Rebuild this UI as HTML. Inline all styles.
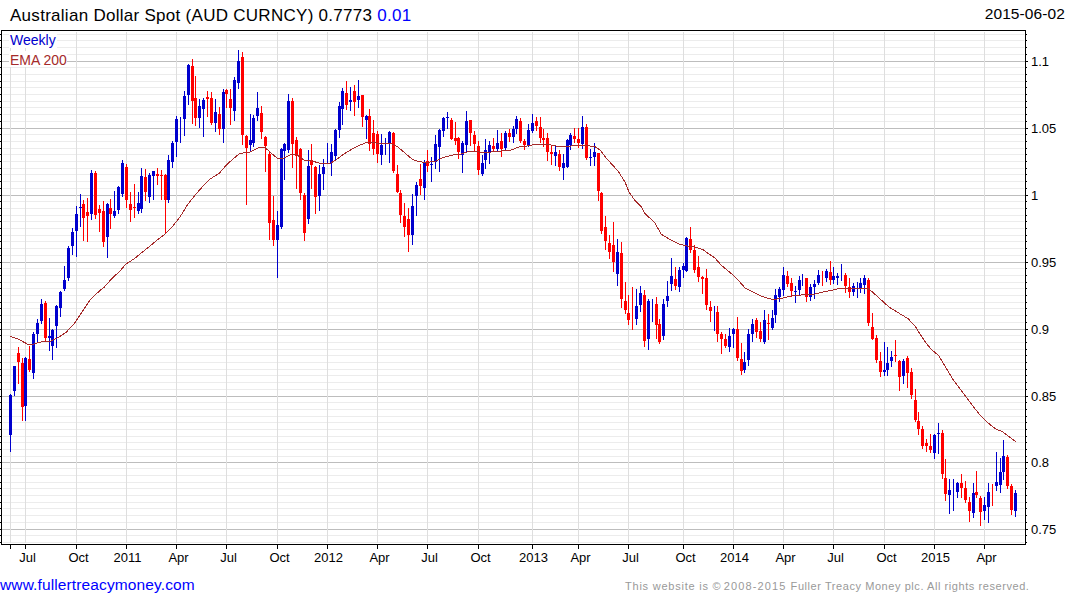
<!DOCTYPE html>
<html><head><meta charset="utf-8"><title>Chart</title>
<style>
html,body{margin:0;padding:0;background:#fff;}
body{width:1075px;height:600px;position:relative;overflow:hidden;font-family:"Liberation Sans",sans-serif;color:#000;}
.t{position:absolute;white-space:nowrap;line-height:1;}
.ax{font-size:13px;}
</style></head><body>

<svg width="1075" height="600" style="position:absolute;left:0;top:0" shape-rendering="crispEdges">
<rect x="1" y="30" width="1024" height="514" fill="#fff"/>
<rect x="3" y="34" width="1021" height="1" fill="#ececec"/>
<rect x="3" y="40" width="1021" height="1" fill="#ececec"/>
<rect x="3" y="47" width="1021" height="1" fill="#ececec"/>
<rect x="3" y="54" width="1021" height="1" fill="#ececec"/>
<rect x="3" y="67" width="1021" height="1" fill="#ececec"/>
<rect x="3" y="74" width="1021" height="1" fill="#ececec"/>
<rect x="3" y="81" width="1021" height="1" fill="#ececec"/>
<rect x="3" y="87" width="1021" height="1" fill="#ececec"/>
<rect x="3" y="94" width="1021" height="1" fill="#ececec"/>
<rect x="3" y="101" width="1021" height="1" fill="#ececec"/>
<rect x="3" y="107" width="1021" height="1" fill="#ececec"/>
<rect x="3" y="114" width="1021" height="1" fill="#ececec"/>
<rect x="3" y="121" width="1021" height="1" fill="#ececec"/>
<rect x="3" y="134" width="1021" height="1" fill="#ececec"/>
<rect x="3" y="141" width="1021" height="1" fill="#ececec"/>
<rect x="3" y="148" width="1021" height="1" fill="#ececec"/>
<rect x="3" y="154" width="1021" height="1" fill="#ececec"/>
<rect x="3" y="161" width="1021" height="1" fill="#ececec"/>
<rect x="3" y="168" width="1021" height="1" fill="#ececec"/>
<rect x="3" y="174" width="1021" height="1" fill="#ececec"/>
<rect x="3" y="181" width="1021" height="1" fill="#ececec"/>
<rect x="3" y="188" width="1021" height="1" fill="#ececec"/>
<rect x="3" y="201" width="1021" height="1" fill="#ececec"/>
<rect x="3" y="208" width="1021" height="1" fill="#ececec"/>
<rect x="3" y="215" width="1021" height="1" fill="#ececec"/>
<rect x="3" y="221" width="1021" height="1" fill="#ececec"/>
<rect x="3" y="228" width="1021" height="1" fill="#ececec"/>
<rect x="3" y="235" width="1021" height="1" fill="#ececec"/>
<rect x="3" y="241" width="1021" height="1" fill="#ececec"/>
<rect x="3" y="248" width="1021" height="1" fill="#ececec"/>
<rect x="3" y="255" width="1021" height="1" fill="#ececec"/>
<rect x="3" y="268" width="1021" height="1" fill="#ececec"/>
<rect x="3" y="275" width="1021" height="1" fill="#ececec"/>
<rect x="3" y="282" width="1021" height="1" fill="#ececec"/>
<rect x="3" y="288" width="1021" height="1" fill="#ececec"/>
<rect x="3" y="295" width="1021" height="1" fill="#ececec"/>
<rect x="3" y="302" width="1021" height="1" fill="#ececec"/>
<rect x="3" y="308" width="1021" height="1" fill="#ececec"/>
<rect x="3" y="315" width="1021" height="1" fill="#ececec"/>
<rect x="3" y="322" width="1021" height="1" fill="#ececec"/>
<rect x="3" y="335" width="1021" height="1" fill="#ececec"/>
<rect x="3" y="342" width="1021" height="1" fill="#ececec"/>
<rect x="3" y="349" width="1021" height="1" fill="#ececec"/>
<rect x="3" y="355" width="1021" height="1" fill="#ececec"/>
<rect x="3" y="362" width="1021" height="1" fill="#ececec"/>
<rect x="3" y="369" width="1021" height="1" fill="#ececec"/>
<rect x="3" y="375" width="1021" height="1" fill="#ececec"/>
<rect x="3" y="382" width="1021" height="1" fill="#ececec"/>
<rect x="3" y="389" width="1021" height="1" fill="#ececec"/>
<rect x="3" y="402" width="1021" height="1" fill="#ececec"/>
<rect x="3" y="409" width="1021" height="1" fill="#ececec"/>
<rect x="3" y="416" width="1021" height="1" fill="#ececec"/>
<rect x="3" y="422" width="1021" height="1" fill="#ececec"/>
<rect x="3" y="429" width="1021" height="1" fill="#ececec"/>
<rect x="3" y="436" width="1021" height="1" fill="#ececec"/>
<rect x="3" y="442" width="1021" height="1" fill="#ececec"/>
<rect x="3" y="449" width="1021" height="1" fill="#ececec"/>
<rect x="3" y="456" width="1021" height="1" fill="#ececec"/>
<rect x="3" y="468" width="1021" height="1" fill="#ececec"/>
<rect x="3" y="475" width="1021" height="1" fill="#ececec"/>
<rect x="3" y="482" width="1021" height="1" fill="#ececec"/>
<rect x="3" y="488" width="1021" height="1" fill="#ececec"/>
<rect x="3" y="495" width="1021" height="1" fill="#ececec"/>
<rect x="3" y="502" width="1021" height="1" fill="#ececec"/>
<rect x="3" y="508" width="1021" height="1" fill="#ececec"/>
<rect x="3" y="515" width="1021" height="1" fill="#ececec"/>
<rect x="3" y="522" width="1021" height="1" fill="#ececec"/>
<rect x="3" y="535" width="1021" height="1" fill="#ececec"/>
<rect x="3" y="542" width="1021" height="1" fill="#ececec"/>
<rect x="2" y="61" width="1023" height="1" fill="#bdbdbd"/>
<rect x="2" y="128" width="1023" height="1" fill="#bdbdbd"/>
<rect x="2" y="195" width="1023" height="1" fill="#bdbdbd"/>
<rect x="2" y="262" width="1023" height="1" fill="#bdbdbd"/>
<rect x="2" y="329" width="1023" height="1" fill="#bdbdbd"/>
<rect x="2" y="396" width="1023" height="1" fill="#bdbdbd"/>
<rect x="2" y="462" width="1023" height="1" fill="#bdbdbd"/>
<rect x="2" y="529" width="1023" height="1" fill="#bdbdbd"/>
<rect x="10" y="32" width="1" height="511" fill="#dedede"/>
<rect x="25" y="32" width="1" height="511" fill="#dedede"/>
<rect x="76" y="32" width="1" height="511" fill="#dedede"/>
<rect x="126" y="32" width="1" height="511" fill="#dedede"/>
<rect x="176" y="32" width="1" height="511" fill="#dedede"/>
<rect x="226" y="32" width="1" height="511" fill="#dedede"/>
<rect x="277" y="32" width="1" height="511" fill="#dedede"/>
<rect x="327" y="32" width="1" height="511" fill="#dedede"/>
<rect x="377" y="32" width="1" height="511" fill="#dedede"/>
<rect x="427" y="32" width="1" height="511" fill="#dedede"/>
<rect x="478" y="32" width="1" height="511" fill="#dedede"/>
<rect x="532" y="32" width="1" height="511" fill="#dedede"/>
<rect x="578" y="32" width="1" height="511" fill="#dedede"/>
<rect x="628" y="32" width="1" height="511" fill="#dedede"/>
<rect x="683" y="32" width="1" height="511" fill="#dedede"/>
<rect x="733" y="32" width="1" height="511" fill="#dedede"/>
<rect x="783" y="32" width="1" height="511" fill="#dedede"/>
<rect x="833" y="32" width="1" height="511" fill="#dedede"/>
<rect x="884" y="32" width="1" height="511" fill="#dedede"/>
<rect x="934" y="32" width="1" height="511" fill="#dedede"/>
<rect x="984" y="32" width="1" height="511" fill="#dedede"/>
<rect x="9" y="32" width="48" height="16" fill="#fff"/>
<rect x="9" y="51" width="58" height="16" fill="#fff"/>
<rect x="10" y="394" width="1" height="58" fill="#0000cd"/>
<rect x="9" y="395" width="3" height="40" fill="#0000cd"/>
<rect x="14" y="366" width="1" height="30" fill="#0000cd"/>
<rect x="13" y="366" width="3" height="25" fill="#0000cd"/>
<rect x="18" y="347" width="1" height="37" fill="#ff0000"/>
<rect x="17" y="353" width="3" height="9" fill="#ff0000"/>
<rect x="22" y="358" width="1" height="63" fill="#ff0000"/>
<rect x="21" y="363" width="3" height="44" fill="#ff0000"/>
<rect x="25" y="357" width="1" height="64" fill="#0000cd"/>
<rect x="24" y="358" width="3" height="48" fill="#0000cd"/>
<rect x="29" y="346" width="1" height="26" fill="#ff0000"/>
<rect x="28" y="359" width="3" height="11" fill="#ff0000"/>
<rect x="33" y="332" width="1" height="47" fill="#0000cd"/>
<rect x="32" y="334" width="3" height="39" fill="#0000cd"/>
<rect x="37" y="319" width="1" height="23" fill="#0000cd"/>
<rect x="36" y="323" width="3" height="11" fill="#0000cd"/>
<rect x="41" y="299" width="1" height="25" fill="#0000cd"/>
<rect x="40" y="304" width="3" height="17" fill="#0000cd"/>
<rect x="45" y="301" width="1" height="40" fill="#ff0000"/>
<rect x="44" y="303" width="3" height="35" fill="#ff0000"/>
<rect x="49" y="318" width="1" height="33" fill="#0000cd"/>
<rect x="48" y="336" width="3" height="2" fill="#0000cd"/>
<rect x="52" y="329" width="1" height="31" fill="#0000cd"/>
<rect x="51" y="330" width="3" height="16" fill="#0000cd"/>
<rect x="56" y="305" width="1" height="43" fill="#0000cd"/>
<rect x="55" y="306" width="3" height="20" fill="#0000cd"/>
<rect x="60" y="291" width="1" height="26" fill="#0000cd"/>
<rect x="59" y="292" width="3" height="16" fill="#0000cd"/>
<rect x="64" y="266" width="1" height="25" fill="#0000cd"/>
<rect x="63" y="280" width="3" height="9" fill="#0000cd"/>
<rect x="68" y="246" width="1" height="35" fill="#0000cd"/>
<rect x="67" y="248" width="3" height="30" fill="#0000cd"/>
<rect x="72" y="228" width="1" height="27" fill="#0000cd"/>
<rect x="71" y="232" width="3" height="14" fill="#0000cd"/>
<rect x="76" y="206" width="1" height="51" fill="#0000cd"/>
<rect x="75" y="214" width="3" height="17" fill="#0000cd"/>
<rect x="80" y="194" width="1" height="33" fill="#0000cd"/>
<rect x="79" y="207" width="3" height="1" fill="#0000cd"/>
<rect x="83" y="200" width="1" height="41" fill="#ff0000"/>
<rect x="82" y="204" width="3" height="14" fill="#ff0000"/>
<rect x="87" y="198" width="1" height="44" fill="#ff0000"/>
<rect x="86" y="212" width="3" height="4" fill="#ff0000"/>
<rect x="91" y="170" width="1" height="50" fill="#0000cd"/>
<rect x="90" y="173" width="3" height="41" fill="#0000cd"/>
<rect x="95" y="171" width="1" height="48" fill="#ff0000"/>
<rect x="94" y="173" width="3" height="42" fill="#ff0000"/>
<rect x="99" y="205" width="1" height="27" fill="#ff0000"/>
<rect x="98" y="209" width="3" height="4" fill="#ff0000"/>
<rect x="103" y="201" width="1" height="46" fill="#ff0000"/>
<rect x="102" y="211" width="3" height="31" fill="#ff0000"/>
<rect x="107" y="203" width="1" height="55" fill="#0000cd"/>
<rect x="106" y="204" width="3" height="33" fill="#0000cd"/>
<rect x="110" y="199" width="1" height="30" fill="#ff0000"/>
<rect x="109" y="208" width="3" height="6" fill="#ff0000"/>
<rect x="114" y="191" width="1" height="27" fill="#0000cd"/>
<rect x="113" y="211" width="3" height="5" fill="#0000cd"/>
<rect x="118" y="186" width="1" height="28" fill="#0000cd"/>
<rect x="117" y="187" width="3" height="23" fill="#0000cd"/>
<rect x="122" y="160" width="1" height="37" fill="#0000cd"/>
<rect x="121" y="163" width="3" height="31" fill="#0000cd"/>
<rect x="126" y="164" width="1" height="44" fill="#ff0000"/>
<rect x="125" y="167" width="3" height="33" fill="#ff0000"/>
<rect x="130" y="192" width="1" height="30" fill="#ff0000"/>
<rect x="129" y="204" width="3" height="6" fill="#ff0000"/>
<rect x="134" y="184" width="1" height="34" fill="#ff0000"/>
<rect x="133" y="207" width="3" height="1" fill="#ff0000"/>
<rect x="138" y="192" width="1" height="22" fill="#0000cd"/>
<rect x="137" y="203" width="3" height="8" fill="#0000cd"/>
<rect x="141" y="168" width="1" height="45" fill="#0000cd"/>
<rect x="140" y="176" width="3" height="33" fill="#0000cd"/>
<rect x="145" y="169" width="1" height="32" fill="#ff0000"/>
<rect x="144" y="177" width="3" height="15" fill="#ff0000"/>
<rect x="149" y="173" width="1" height="30" fill="#0000cd"/>
<rect x="148" y="175" width="3" height="22" fill="#0000cd"/>
<rect x="153" y="171" width="1" height="29" fill="#0000cd"/>
<rect x="152" y="171" width="3" height="5" fill="#0000cd"/>
<rect x="157" y="168" width="1" height="17" fill="#ff0000"/>
<rect x="156" y="174" width="3" height="2" fill="#ff0000"/>
<rect x="161" y="170" width="1" height="30" fill="#ff0000"/>
<rect x="160" y="175" width="3" height="1" fill="#ff0000"/>
<rect x="165" y="174" width="1" height="60" fill="#ff0000"/>
<rect x="164" y="175" width="3" height="25" fill="#ff0000"/>
<rect x="168" y="155" width="1" height="48" fill="#0000cd"/>
<rect x="167" y="160" width="3" height="40" fill="#0000cd"/>
<rect x="172" y="141" width="1" height="27" fill="#0000cd"/>
<rect x="171" y="143" width="3" height="19" fill="#0000cd"/>
<rect x="176" y="116" width="1" height="41" fill="#0000cd"/>
<rect x="175" y="119" width="3" height="23" fill="#0000cd"/>
<rect x="180" y="117" width="1" height="26" fill="#0000cd"/>
<rect x="184" y="91" width="1" height="45" fill="#0000cd"/>
<rect x="183" y="96" width="3" height="23" fill="#0000cd"/>
<rect x="188" y="64" width="1" height="41" fill="#0000cd"/>
<rect x="187" y="65" width="3" height="30" fill="#0000cd"/>
<rect x="192" y="59" width="1" height="65" fill="#ff0000"/>
<rect x="191" y="66" width="3" height="35" fill="#ff0000"/>
<rect x="195" y="76" width="1" height="50" fill="#ff0000"/>
<rect x="194" y="98" width="3" height="20" fill="#ff0000"/>
<rect x="199" y="99" width="1" height="29" fill="#0000cd"/>
<rect x="198" y="106" width="3" height="12" fill="#0000cd"/>
<rect x="203" y="98" width="1" height="39" fill="#0000cd"/>
<rect x="202" y="100" width="3" height="9" fill="#0000cd"/>
<rect x="207" y="91" width="1" height="26" fill="#ff0000"/>
<rect x="206" y="97" width="3" height="2" fill="#ff0000"/>
<rect x="211" y="92" width="1" height="33" fill="#ff0000"/>
<rect x="210" y="98" width="3" height="25" fill="#ff0000"/>
<rect x="215" y="99" width="1" height="33" fill="#0000cd"/>
<rect x="214" y="112" width="3" height="11" fill="#0000cd"/>
<rect x="219" y="107" width="1" height="28" fill="#ff0000"/>
<rect x="218" y="114" width="3" height="15" fill="#ff0000"/>
<rect x="223" y="89" width="1" height="54" fill="#0000cd"/>
<rect x="222" y="92" width="3" height="37" fill="#0000cd"/>
<rect x="226" y="89" width="1" height="19" fill="#ff0000"/>
<rect x="225" y="90" width="3" height="4" fill="#ff0000"/>
<rect x="230" y="89" width="1" height="36" fill="#ff0000"/>
<rect x="229" y="99" width="3" height="9" fill="#ff0000"/>
<rect x="234" y="77" width="1" height="44" fill="#0000cd"/>
<rect x="233" y="80" width="3" height="31" fill="#0000cd"/>
<rect x="238" y="50" width="1" height="39" fill="#0000cd"/>
<rect x="237" y="61" width="3" height="22" fill="#0000cd"/>
<rect x="242" y="52" width="1" height="93" fill="#ff0000"/>
<rect x="241" y="57" width="3" height="78" fill="#ff0000"/>
<rect x="246" y="135" width="1" height="70" fill="#ff0000"/>
<rect x="245" y="136" width="3" height="12" fill="#ff0000"/>
<rect x="250" y="114" width="1" height="38" fill="#0000cd"/>
<rect x="249" y="140" width="3" height="5" fill="#0000cd"/>
<rect x="253" y="115" width="1" height="32" fill="#0000cd"/>
<rect x="252" y="118" width="3" height="25" fill="#0000cd"/>
<rect x="257" y="92" width="1" height="29" fill="#0000cd"/>
<rect x="256" y="108" width="3" height="8" fill="#0000cd"/>
<rect x="261" y="106" width="1" height="33" fill="#ff0000"/>
<rect x="260" y="113" width="3" height="19" fill="#ff0000"/>
<rect x="265" y="136" width="1" height="36" fill="#ff0000"/>
<rect x="264" y="137" width="3" height="9" fill="#ff0000"/>
<rect x="269" y="152" width="1" height="88" fill="#ff0000"/>
<rect x="268" y="154" width="3" height="69" fill="#ff0000"/>
<rect x="273" y="196" width="1" height="50" fill="#ff0000"/>
<rect x="272" y="220" width="3" height="20" fill="#ff0000"/>
<rect x="277" y="211" width="1" height="67" fill="#0000cd"/>
<rect x="276" y="225" width="3" height="15" fill="#0000cd"/>
<rect x="281" y="148" width="1" height="81" fill="#0000cd"/>
<rect x="280" y="149" width="3" height="78" fill="#0000cd"/>
<rect x="284" y="143" width="1" height="37" fill="#0000cd"/>
<rect x="283" y="144" width="3" height="7" fill="#0000cd"/>
<rect x="288" y="94" width="1" height="59" fill="#0000cd"/>
<rect x="287" y="101" width="3" height="49" fill="#0000cd"/>
<rect x="292" y="98" width="1" height="70" fill="#ff0000"/>
<rect x="291" y="101" width="3" height="43" fill="#ff0000"/>
<rect x="296" y="137" width="1" height="52" fill="#ff0000"/>
<rect x="295" y="140" width="3" height="16" fill="#ff0000"/>
<rect x="300" y="148" width="1" height="52" fill="#ff0000"/>
<rect x="299" y="149" width="3" height="44" fill="#ff0000"/>
<rect x="304" y="193" width="1" height="48" fill="#ff0000"/>
<rect x="303" y="195" width="3" height="38" fill="#ff0000"/>
<rect x="308" y="150" width="1" height="74" fill="#0000cd"/>
<rect x="307" y="166" width="3" height="53" fill="#0000cd"/>
<rect x="311" y="144" width="1" height="45" fill="#ff0000"/>
<rect x="310" y="160" width="3" height="5" fill="#ff0000"/>
<rect x="315" y="166" width="1" height="48" fill="#ff0000"/>
<rect x="314" y="167" width="3" height="30" fill="#ff0000"/>
<rect x="319" y="165" width="1" height="46" fill="#0000cd"/>
<rect x="318" y="174" width="3" height="22" fill="#0000cd"/>
<rect x="323" y="159" width="1" height="31" fill="#0000cd"/>
<rect x="322" y="167" width="3" height="7" fill="#0000cd"/>
<rect x="327" y="143" width="1" height="21" fill="#0000cd"/>
<rect x="331" y="144" width="1" height="32" fill="#0000cd"/>
<rect x="330" y="152" width="3" height="11" fill="#0000cd"/>
<rect x="335" y="129" width="1" height="32" fill="#0000cd"/>
<rect x="334" y="130" width="3" height="26" fill="#0000cd"/>
<rect x="339" y="102" width="1" height="36" fill="#0000cd"/>
<rect x="338" y="106" width="3" height="24" fill="#0000cd"/>
<rect x="342" y="88" width="1" height="37" fill="#0000cd"/>
<rect x="341" y="91" width="3" height="18" fill="#0000cd"/>
<rect x="346" y="81" width="1" height="29" fill="#ff0000"/>
<rect x="345" y="93" width="3" height="12" fill="#ff0000"/>
<rect x="350" y="87" width="1" height="24" fill="#0000cd"/>
<rect x="349" y="100" width="3" height="2" fill="#0000cd"/>
<rect x="354" y="85" width="1" height="31" fill="#ff0000"/>
<rect x="353" y="91" width="3" height="11" fill="#ff0000"/>
<rect x="358" y="80" width="1" height="28" fill="#0000cd"/>
<rect x="357" y="96" width="3" height="4" fill="#0000cd"/>
<rect x="362" y="95" width="1" height="32" fill="#ff0000"/>
<rect x="361" y="95" width="3" height="22" fill="#ff0000"/>
<rect x="366" y="115" width="1" height="24" fill="#0000cd"/>
<rect x="365" y="116" width="3" height="4" fill="#0000cd"/>
<rect x="369" y="109" width="1" height="42" fill="#ff0000"/>
<rect x="368" y="116" width="3" height="28" fill="#ff0000"/>
<rect x="373" y="120" width="1" height="35" fill="#ff0000"/>
<rect x="372" y="133" width="3" height="16" fill="#ff0000"/>
<rect x="377" y="131" width="1" height="32" fill="#ff0000"/>
<rect x="376" y="134" width="3" height="20" fill="#ff0000"/>
<rect x="381" y="134" width="1" height="31" fill="#0000cd"/>
<rect x="380" y="145" width="3" height="10" fill="#0000cd"/>
<rect x="385" y="138" width="1" height="17" fill="#0000cd"/>
<rect x="389" y="131" width="1" height="32" fill="#0000cd"/>
<rect x="388" y="132" width="3" height="12" fill="#0000cd"/>
<rect x="393" y="132" width="1" height="41" fill="#ff0000"/>
<rect x="392" y="133" width="3" height="38" fill="#ff0000"/>
<rect x="397" y="165" width="1" height="28" fill="#ff0000"/>
<rect x="396" y="174" width="3" height="18" fill="#ff0000"/>
<rect x="400" y="190" width="1" height="33" fill="#ff0000"/>
<rect x="399" y="193" width="3" height="22" fill="#ff0000"/>
<rect x="404" y="203" width="1" height="34" fill="#ff0000"/>
<rect x="403" y="216" width="3" height="11" fill="#ff0000"/>
<rect x="408" y="208" width="1" height="44" fill="#ff0000"/>
<rect x="407" y="219" width="3" height="16" fill="#ff0000"/>
<rect x="412" y="194" width="1" height="51" fill="#0000cd"/>
<rect x="411" y="206" width="3" height="29" fill="#0000cd"/>
<rect x="416" y="182" width="1" height="34" fill="#0000cd"/>
<rect x="415" y="185" width="3" height="11" fill="#0000cd"/>
<rect x="420" y="164" width="1" height="31" fill="#ff0000"/>
<rect x="419" y="179" width="3" height="7" fill="#ff0000"/>
<rect x="424" y="160" width="1" height="40" fill="#0000cd"/>
<rect x="423" y="163" width="3" height="25" fill="#0000cd"/>
<rect x="427" y="150" width="1" height="22" fill="#ff0000"/>
<rect x="426" y="161" width="3" height="5" fill="#ff0000"/>
<rect x="431" y="157" width="1" height="25" fill="#0000cd"/>
<rect x="430" y="164" width="3" height="1" fill="#0000cd"/>
<rect x="435" y="135" width="1" height="34" fill="#0000cd"/>
<rect x="434" y="144" width="3" height="18" fill="#0000cd"/>
<rect x="439" y="129" width="1" height="43" fill="#0000cd"/>
<rect x="438" y="130" width="3" height="17" fill="#0000cd"/>
<rect x="443" y="117" width="1" height="20" fill="#0000cd"/>
<rect x="442" y="118" width="3" height="13" fill="#0000cd"/>
<rect x="447" y="112" width="1" height="17" fill="#0000cd"/>
<rect x="446" y="117" width="3" height="1" fill="#0000cd"/>
<rect x="451" y="118" width="1" height="22" fill="#ff0000"/>
<rect x="450" y="120" width="3" height="19" fill="#ff0000"/>
<rect x="455" y="122" width="1" height="23" fill="#ff0000"/>
<rect x="454" y="138" width="3" height="3" fill="#ff0000"/>
<rect x="458" y="137" width="1" height="22" fill="#ff0000"/>
<rect x="457" y="138" width="3" height="14" fill="#ff0000"/>
<rect x="462" y="141" width="1" height="32" fill="#0000cd"/>
<rect x="461" y="143" width="3" height="12" fill="#0000cd"/>
<rect x="466" y="111" width="1" height="41" fill="#0000cd"/>
<rect x="465" y="121" width="3" height="24" fill="#0000cd"/>
<rect x="470" y="120" width="1" height="26" fill="#ff0000"/>
<rect x="469" y="120" width="3" height="13" fill="#ff0000"/>
<rect x="474" y="131" width="1" height="20" fill="#ff0000"/>
<rect x="473" y="135" width="3" height="9" fill="#ff0000"/>
<rect x="478" y="141" width="1" height="34" fill="#ff0000"/>
<rect x="477" y="146" width="3" height="24" fill="#ff0000"/>
<rect x="482" y="155" width="1" height="21" fill="#0000cd"/>
<rect x="481" y="163" width="3" height="11" fill="#0000cd"/>
<rect x="485" y="139" width="1" height="30" fill="#0000cd"/>
<rect x="484" y="150" width="3" height="10" fill="#0000cd"/>
<rect x="489" y="141" width="1" height="23" fill="#0000cd"/>
<rect x="488" y="145" width="3" height="7" fill="#0000cd"/>
<rect x="493" y="138" width="1" height="14" fill="#ff0000"/>
<rect x="492" y="146" width="3" height="3" fill="#ff0000"/>
<rect x="497" y="130" width="1" height="21" fill="#0000cd"/>
<rect x="496" y="143" width="3" height="6" fill="#0000cd"/>
<rect x="501" y="133" width="1" height="24" fill="#ff0000"/>
<rect x="500" y="141" width="3" height="8" fill="#ff0000"/>
<rect x="505" y="131" width="1" height="19" fill="#0000cd"/>
<rect x="504" y="133" width="3" height="15" fill="#0000cd"/>
<rect x="509" y="129" width="1" height="13" fill="#ff0000"/>
<rect x="508" y="133" width="3" height="4" fill="#ff0000"/>
<rect x="513" y="126" width="1" height="17" fill="#0000cd"/>
<rect x="512" y="129" width="3" height="8" fill="#0000cd"/>
<rect x="516" y="116" width="1" height="18" fill="#0000cd"/>
<rect x="515" y="119" width="3" height="10" fill="#0000cd"/>
<rect x="520" y="118" width="1" height="25" fill="#ff0000"/>
<rect x="519" y="121" width="3" height="20" fill="#ff0000"/>
<rect x="524" y="139" width="1" height="11" fill="#ff0000"/>
<rect x="523" y="141" width="3" height="4" fill="#ff0000"/>
<rect x="528" y="124" width="1" height="23" fill="#0000cd"/>
<rect x="527" y="130" width="3" height="15" fill="#0000cd"/>
<rect x="532" y="114" width="1" height="19" fill="#0000cd"/>
<rect x="531" y="123" width="3" height="8" fill="#0000cd"/>
<rect x="536" y="117" width="1" height="14" fill="#ff0000"/>
<rect x="535" y="121" width="3" height="5" fill="#ff0000"/>
<rect x="540" y="117" width="1" height="26" fill="#ff0000"/>
<rect x="539" y="127" width="3" height="11" fill="#ff0000"/>
<rect x="543" y="129" width="1" height="18" fill="#ff0000"/>
<rect x="542" y="138" width="3" height="2" fill="#ff0000"/>
<rect x="547" y="133" width="1" height="28" fill="#ff0000"/>
<rect x="546" y="138" width="3" height="14" fill="#ff0000"/>
<rect x="551" y="145" width="1" height="20" fill="#ff0000"/>
<rect x="550" y="152" width="3" height="2" fill="#ff0000"/>
<rect x="555" y="146" width="1" height="20" fill="#0000cd"/>
<rect x="554" y="152" width="3" height="4" fill="#0000cd"/>
<rect x="559" y="150" width="1" height="21" fill="#ff0000"/>
<rect x="558" y="154" width="3" height="13" fill="#ff0000"/>
<rect x="563" y="154" width="1" height="26" fill="#0000cd"/>
<rect x="562" y="163" width="3" height="5" fill="#0000cd"/>
<rect x="567" y="139" width="1" height="29" fill="#0000cd"/>
<rect x="566" y="140" width="3" height="27" fill="#0000cd"/>
<rect x="570" y="133" width="1" height="17" fill="#0000cd"/>
<rect x="569" y="135" width="3" height="10" fill="#0000cd"/>
<rect x="574" y="128" width="1" height="15" fill="#ff0000"/>
<rect x="573" y="136" width="3" height="3" fill="#ff0000"/>
<rect x="578" y="128" width="1" height="20" fill="#ff0000"/>
<rect x="577" y="139" width="3" height="4" fill="#ff0000"/>
<rect x="582" y="116" width="1" height="33" fill="#0000cd"/>
<rect x="581" y="127" width="3" height="17" fill="#0000cd"/>
<rect x="586" y="124" width="1" height="36" fill="#ff0000"/>
<rect x="585" y="127" width="3" height="31" fill="#ff0000"/>
<rect x="590" y="149" width="1" height="17" fill="#0000cd"/>
<rect x="589" y="157" width="3" height="1" fill="#0000cd"/>
<rect x="594" y="143" width="1" height="23" fill="#0000cd"/>
<rect x="593" y="152" width="3" height="5" fill="#0000cd"/>
<rect x="598" y="153" width="1" height="48" fill="#ff0000"/>
<rect x="597" y="153" width="3" height="38" fill="#ff0000"/>
<rect x="601" y="192" width="1" height="42" fill="#ff0000"/>
<rect x="600" y="193" width="3" height="38" fill="#ff0000"/>
<rect x="605" y="216" width="1" height="34" fill="#ff0000"/>
<rect x="604" y="227" width="3" height="14" fill="#ff0000"/>
<rect x="609" y="235" width="1" height="24" fill="#ff0000"/>
<rect x="608" y="243" width="3" height="9" fill="#ff0000"/>
<rect x="613" y="222" width="1" height="50" fill="#ff0000"/>
<rect x="612" y="245" width="3" height="17" fill="#ff0000"/>
<rect x="617" y="239" width="1" height="47" fill="#0000cd"/>
<rect x="616" y="252" width="3" height="22" fill="#0000cd"/>
<rect x="621" y="242" width="1" height="66" fill="#ff0000"/>
<rect x="620" y="253" width="3" height="46" fill="#ff0000"/>
<rect x="625" y="282" width="1" height="32" fill="#ff0000"/>
<rect x="624" y="301" width="3" height="9" fill="#ff0000"/>
<rect x="628" y="295" width="1" height="30" fill="#ff0000"/>
<rect x="627" y="313" width="3" height="7" fill="#ff0000"/>
<rect x="632" y="287" width="1" height="43" fill="#ff0000"/>
<rect x="636" y="289" width="1" height="36" fill="#0000cd"/>
<rect x="635" y="306" width="3" height="13" fill="#0000cd"/>
<rect x="640" y="286" width="1" height="26" fill="#0000cd"/>
<rect x="639" y="293" width="3" height="12" fill="#0000cd"/>
<rect x="644" y="290" width="1" height="57" fill="#ff0000"/>
<rect x="643" y="295" width="3" height="46" fill="#ff0000"/>
<rect x="648" y="299" width="1" height="51" fill="#0000cd"/>
<rect x="647" y="301" width="3" height="38" fill="#0000cd"/>
<rect x="652" y="299" width="1" height="23" fill="#0000cd"/>
<rect x="656" y="297" width="1" height="42" fill="#ff0000"/>
<rect x="655" y="304" width="3" height="21" fill="#ff0000"/>
<rect x="659" y="319" width="1" height="25" fill="#ff0000"/>
<rect x="658" y="324" width="3" height="18" fill="#ff0000"/>
<rect x="663" y="299" width="1" height="41" fill="#0000cd"/>
<rect x="662" y="304" width="3" height="32" fill="#0000cd"/>
<rect x="667" y="281" width="1" height="26" fill="#0000cd"/>
<rect x="666" y="296" width="3" height="5" fill="#0000cd"/>
<rect x="671" y="258" width="1" height="33" fill="#0000cd"/>
<rect x="670" y="276" width="3" height="8" fill="#0000cd"/>
<rect x="675" y="267" width="1" height="23" fill="#ff0000"/>
<rect x="674" y="279" width="3" height="7" fill="#ff0000"/>
<rect x="679" y="267" width="1" height="25" fill="#0000cd"/>
<rect x="678" y="270" width="3" height="17" fill="#0000cd"/>
<rect x="683" y="263" width="1" height="15" fill="#0000cd"/>
<rect x="682" y="266" width="3" height="4" fill="#0000cd"/>
<rect x="686" y="237" width="1" height="35" fill="#0000cd"/>
<rect x="685" y="238" width="3" height="33" fill="#0000cd"/>
<rect x="690" y="227" width="1" height="26" fill="#ff0000"/>
<rect x="689" y="239" width="3" height="11" fill="#ff0000"/>
<rect x="694" y="245" width="1" height="28" fill="#ff0000"/>
<rect x="693" y="250" width="3" height="20" fill="#ff0000"/>
<rect x="698" y="256" width="1" height="26" fill="#ff0000"/>
<rect x="697" y="267" width="3" height="10" fill="#ff0000"/>
<rect x="702" y="276" width="1" height="18" fill="#ff0000"/>
<rect x="701" y="277" width="3" height="2" fill="#ff0000"/>
<rect x="706" y="269" width="1" height="41" fill="#ff0000"/>
<rect x="705" y="278" width="3" height="27" fill="#ff0000"/>
<rect x="710" y="301" width="1" height="21" fill="#ff0000"/>
<rect x="709" y="307" width="3" height="4" fill="#ff0000"/>
<rect x="714" y="306" width="1" height="25" fill="#0000cd"/>
<rect x="717" y="306" width="1" height="36" fill="#ff0000"/>
<rect x="716" y="312" width="3" height="22" fill="#ff0000"/>
<rect x="721" y="332" width="1" height="22" fill="#ff0000"/>
<rect x="720" y="334" width="3" height="5" fill="#ff0000"/>
<rect x="725" y="334" width="1" height="14" fill="#ff0000"/>
<rect x="724" y="339" width="3" height="7" fill="#ff0000"/>
<rect x="729" y="328" width="1" height="24" fill="#0000cd"/>
<rect x="728" y="336" width="3" height="11" fill="#0000cd"/>
<rect x="733" y="328" width="1" height="20" fill="#0000cd"/>
<rect x="732" y="329" width="3" height="5" fill="#0000cd"/>
<rect x="737" y="317" width="1" height="44" fill="#ff0000"/>
<rect x="736" y="329" width="3" height="29" fill="#ff0000"/>
<rect x="741" y="343" width="1" height="32" fill="#ff0000"/>
<rect x="740" y="359" width="3" height="12" fill="#ff0000"/>
<rect x="744" y="352" width="1" height="21" fill="#0000cd"/>
<rect x="743" y="362" width="3" height="8" fill="#0000cd"/>
<rect x="748" y="329" width="1" height="37" fill="#0000cd"/>
<rect x="747" y="334" width="3" height="26" fill="#0000cd"/>
<rect x="752" y="319" width="1" height="23" fill="#0000cd"/>
<rect x="751" y="324" width="3" height="10" fill="#0000cd"/>
<rect x="756" y="318" width="1" height="20" fill="#ff0000"/>
<rect x="755" y="320" width="3" height="12" fill="#ff0000"/>
<rect x="760" y="322" width="1" height="20" fill="#ff0000"/>
<rect x="759" y="331" width="3" height="8" fill="#ff0000"/>
<rect x="764" y="310" width="1" height="34" fill="#0000cd"/>
<rect x="763" y="320" width="3" height="22" fill="#0000cd"/>
<rect x="768" y="314" width="1" height="26" fill="#ff0000"/>
<rect x="767" y="323" width="3" height="1" fill="#ff0000"/>
<rect x="772" y="310" width="1" height="20" fill="#0000cd"/>
<rect x="771" y="318" width="3" height="10" fill="#0000cd"/>
<rect x="775" y="289" width="1" height="34" fill="#0000cd"/>
<rect x="774" y="295" width="3" height="20" fill="#0000cd"/>
<rect x="779" y="287" width="1" height="15" fill="#0000cd"/>
<rect x="778" y="289" width="3" height="8" fill="#0000cd"/>
<rect x="783" y="267" width="1" height="29" fill="#0000cd"/>
<rect x="782" y="275" width="3" height="15" fill="#0000cd"/>
<rect x="787" y="271" width="1" height="16" fill="#ff0000"/>
<rect x="786" y="276" width="3" height="8" fill="#ff0000"/>
<rect x="791" y="278" width="1" height="19" fill="#ff0000"/>
<rect x="790" y="283" width="3" height="8" fill="#ff0000"/>
<rect x="795" y="286" width="1" height="17" fill="#0000cd"/>
<rect x="794" y="291" width="3" height="1" fill="#0000cd"/>
<rect x="799" y="276" width="1" height="20" fill="#0000cd"/>
<rect x="798" y="280" width="3" height="10" fill="#0000cd"/>
<rect x="802" y="274" width="1" height="12" fill="#0000cd"/>
<rect x="806" y="278" width="1" height="24" fill="#ff0000"/>
<rect x="805" y="278" width="3" height="19" fill="#ff0000"/>
<rect x="810" y="284" width="1" height="17" fill="#0000cd"/>
<rect x="809" y="287" width="3" height="10" fill="#0000cd"/>
<rect x="814" y="280" width="1" height="19" fill="#0000cd"/>
<rect x="813" y="284" width="3" height="3" fill="#0000cd"/>
<rect x="818" y="270" width="1" height="15" fill="#0000cd"/>
<rect x="817" y="275" width="3" height="8" fill="#0000cd"/>
<rect x="822" y="271" width="1" height="15" fill="#ff0000"/>
<rect x="826" y="269" width="1" height="13" fill="#0000cd"/>
<rect x="825" y="271" width="3" height="7" fill="#0000cd"/>
<rect x="830" y="261" width="1" height="24" fill="#ff0000"/>
<rect x="829" y="272" width="3" height="8" fill="#ff0000"/>
<rect x="833" y="267" width="1" height="17" fill="#0000cd"/>
<rect x="832" y="276" width="3" height="4" fill="#0000cd"/>
<rect x="837" y="273" width="1" height="12" fill="#0000cd"/>
<rect x="836" y="276" width="3" height="2" fill="#0000cd"/>
<rect x="841" y="264" width="1" height="17" fill="#0000cd"/>
<rect x="845" y="273" width="1" height="20" fill="#ff0000"/>
<rect x="844" y="275" width="3" height="11" fill="#ff0000"/>
<rect x="849" y="278" width="1" height="20" fill="#ff0000"/>
<rect x="848" y="287" width="3" height="5" fill="#ff0000"/>
<rect x="853" y="283" width="1" height="13" fill="#0000cd"/>
<rect x="852" y="286" width="3" height="6" fill="#0000cd"/>
<rect x="857" y="282" width="1" height="16" fill="#0000cd"/>
<rect x="860" y="278" width="1" height="15" fill="#0000cd"/>
<rect x="859" y="283" width="3" height="5" fill="#0000cd"/>
<rect x="864" y="275" width="1" height="19" fill="#0000cd"/>
<rect x="863" y="278" width="3" height="7" fill="#0000cd"/>
<rect x="868" y="278" width="1" height="48" fill="#ff0000"/>
<rect x="867" y="280" width="3" height="43" fill="#ff0000"/>
<rect x="872" y="313" width="1" height="27" fill="#ff0000"/>
<rect x="871" y="327" width="3" height="12" fill="#ff0000"/>
<rect x="876" y="335" width="1" height="28" fill="#ff0000"/>
<rect x="875" y="338" width="3" height="22" fill="#ff0000"/>
<rect x="880" y="352" width="1" height="25" fill="#ff0000"/>
<rect x="879" y="361" width="3" height="11" fill="#ff0000"/>
<rect x="884" y="342" width="1" height="34" fill="#0000cd"/>
<rect x="883" y="370" width="3" height="2" fill="#0000cd"/>
<rect x="887" y="347" width="1" height="29" fill="#0000cd"/>
<rect x="886" y="363" width="3" height="7" fill="#0000cd"/>
<rect x="891" y="351" width="1" height="16" fill="#0000cd"/>
<rect x="890" y="357" width="3" height="4" fill="#0000cd"/>
<rect x="895" y="340" width="1" height="22" fill="#ff0000"/>
<rect x="894" y="355" width="3" height="1" fill="#ff0000"/>
<rect x="899" y="360" width="1" height="31" fill="#ff0000"/>
<rect x="898" y="361" width="3" height="16" fill="#ff0000"/>
<rect x="903" y="359" width="1" height="25" fill="#0000cd"/>
<rect x="902" y="361" width="3" height="15" fill="#0000cd"/>
<rect x="907" y="356" width="1" height="32" fill="#ff0000"/>
<rect x="906" y="358" width="3" height="15" fill="#ff0000"/>
<rect x="911" y="368" width="1" height="31" fill="#ff0000"/>
<rect x="910" y="372" width="3" height="23" fill="#ff0000"/>
<rect x="915" y="389" width="1" height="33" fill="#ff0000"/>
<rect x="914" y="400" width="3" height="20" fill="#ff0000"/>
<rect x="918" y="412" width="1" height="23" fill="#ff0000"/>
<rect x="917" y="421" width="3" height="8" fill="#ff0000"/>
<rect x="922" y="426" width="1" height="23" fill="#ff0000"/>
<rect x="921" y="429" width="3" height="17" fill="#ff0000"/>
<rect x="926" y="439" width="1" height="13" fill="#ff0000"/>
<rect x="925" y="443" width="3" height="3" fill="#ff0000"/>
<rect x="930" y="434" width="1" height="19" fill="#ff0000"/>
<rect x="929" y="446" width="3" height="4" fill="#ff0000"/>
<rect x="934" y="434" width="1" height="25" fill="#0000cd"/>
<rect x="933" y="435" width="3" height="18" fill="#0000cd"/>
<rect x="938" y="423" width="1" height="31" fill="#0000cd"/>
<rect x="937" y="433" width="3" height="1" fill="#0000cd"/>
<rect x="942" y="430" width="1" height="49" fill="#ff0000"/>
<rect x="941" y="433" width="3" height="41" fill="#ff0000"/>
<rect x="945" y="459" width="1" height="42" fill="#ff0000"/>
<rect x="944" y="478" width="3" height="16" fill="#ff0000"/>
<rect x="949" y="479" width="1" height="35" fill="#0000cd"/>
<rect x="948" y="490" width="3" height="5" fill="#0000cd"/>
<rect x="953" y="479" width="1" height="32" fill="#0000cd"/>
<rect x="957" y="482" width="1" height="16" fill="#0000cd"/>
<rect x="956" y="483" width="3" height="9" fill="#0000cd"/>
<rect x="961" y="474" width="1" height="24" fill="#ff0000"/>
<rect x="960" y="483" width="3" height="5" fill="#ff0000"/>
<rect x="965" y="481" width="1" height="22" fill="#ff0000"/>
<rect x="964" y="488" width="3" height="12" fill="#ff0000"/>
<rect x="969" y="497" width="1" height="25" fill="#ff0000"/>
<rect x="968" y="502" width="3" height="9" fill="#ff0000"/>
<rect x="973" y="483" width="1" height="35" fill="#0000cd"/>
<rect x="972" y="493" width="3" height="20" fill="#0000cd"/>
<rect x="976" y="471" width="1" height="27" fill="#ff0000"/>
<rect x="975" y="492" width="3" height="3" fill="#ff0000"/>
<rect x="980" y="496" width="1" height="30" fill="#ff0000"/>
<rect x="979" y="498" width="3" height="14" fill="#ff0000"/>
<rect x="984" y="497" width="1" height="23" fill="#0000cd"/>
<rect x="983" y="505" width="3" height="6" fill="#0000cd"/>
<rect x="988" y="483" width="1" height="40" fill="#0000cd"/>
<rect x="987" y="492" width="3" height="15" fill="#0000cd"/>
<rect x="992" y="484" width="1" height="22" fill="#ff0000"/>
<rect x="996" y="452" width="1" height="39" fill="#0000cd"/>
<rect x="995" y="482" width="3" height="4" fill="#0000cd"/>
<rect x="1000" y="458" width="1" height="35" fill="#0000cd"/>
<rect x="999" y="472" width="3" height="13" fill="#0000cd"/>
<rect x="1003" y="440" width="1" height="40" fill="#0000cd"/>
<rect x="1002" y="456" width="3" height="16" fill="#0000cd"/>
<rect x="1007" y="455" width="1" height="34" fill="#ff0000"/>
<rect x="1006" y="457" width="3" height="29" fill="#ff0000"/>
<rect x="1011" y="484" width="1" height="31" fill="#ff0000"/>
<rect x="1010" y="486" width="3" height="24" fill="#ff0000"/>
<rect x="1015" y="490" width="1" height="27" fill="#0000cd"/>
<rect x="1014" y="493" width="3" height="18" fill="#0000cd"/>
<polyline points="10,336.4 18,339 28,344.4 34,344 42,341.6 50,341.6 58,337.6 66,332.4 74,324 82,312 90,300 100,290.4 104,287.4 112,278.4 120,271 126,264 134,259 140,254 148,247.6 156,241 165,234 172,227 180,217 188,204 196,194 204,185 210,179 219,173.6 227,164.4 233,159 239,154 246,152.4 250,152 259,147.6 265,147.6 270,152 278,159 284,158 291,154.4 297,155 304,160 312,161 319,163 330,163.4 336,160 344,154 352,149 360,145 367,142.4 376,143 386,143.4 392,144 398,147 406,154 412,159 418,161.6 426,162.4 435,161.6 442,158 445,157 453,155 461,154 469,151.4 479,152 491,152 501,151 511,150 519,147 527,146 535,144.4 543,144.4 551,145 561,147 571,146 581,145 595,146.6 600,150 607,159 618,171 625,182 629,192 635,200.5 641,206.5 645,213.5 655,223 661,234 669,239 679,244 687,246 695,247 703,249.6 709,254 715,258 721,265 727,270 733,275 739,281 745,288 753,292 761,296 767,298 773,299.5 781,298.4 791,296 801,295 815,294 825,291.6 833,290 841,288 851,288 861,288 867,288 872,291.6 879,298 889,307 897,312 908,318.6 915,326 920,334 926,343 931,349 939,356 946,368 954,381 964,394 972,405 980,415 988,423 996,429 1003,432 1008,436 1015.6,441.6" fill="none" stroke="#a52a2a" stroke-width="1" shape-rendering="crispEdges"/>
<rect x="1" y="30" width="1025" height="1" fill="#000"/>
<rect x="1" y="30" width="1" height="515" fill="#000"/>
<rect x="1" y="544" width="1025" height="1" fill="#000"/>
<rect x="1025" y="30" width="1" height="515" fill="#000"/>
<rect x="0" y="34" width="1" height="1" fill="#000"/>
<rect x="1026" y="34" width="1" height="1" fill="#000"/>
<rect x="0" y="40" width="1" height="1" fill="#000"/>
<rect x="1026" y="40" width="1" height="1" fill="#000"/>
<rect x="0" y="47" width="1" height="1" fill="#000"/>
<rect x="1026" y="47" width="1" height="1" fill="#000"/>
<rect x="0" y="54" width="1" height="1" fill="#000"/>
<rect x="1026" y="54" width="1" height="1" fill="#000"/>
<rect x="0" y="67" width="1" height="1" fill="#000"/>
<rect x="1026" y="67" width="1" height="1" fill="#000"/>
<rect x="0" y="74" width="1" height="1" fill="#000"/>
<rect x="1026" y="74" width="1" height="1" fill="#000"/>
<rect x="0" y="81" width="1" height="1" fill="#000"/>
<rect x="1026" y="81" width="1" height="1" fill="#000"/>
<rect x="0" y="87" width="1" height="1" fill="#000"/>
<rect x="1026" y="87" width="1" height="1" fill="#000"/>
<rect x="0" y="94" width="1" height="1" fill="#000"/>
<rect x="1026" y="94" width="1" height="1" fill="#000"/>
<rect x="0" y="101" width="1" height="1" fill="#000"/>
<rect x="1026" y="101" width="1" height="1" fill="#000"/>
<rect x="0" y="107" width="1" height="1" fill="#000"/>
<rect x="1026" y="107" width="1" height="1" fill="#000"/>
<rect x="0" y="114" width="1" height="1" fill="#000"/>
<rect x="1026" y="114" width="1" height="1" fill="#000"/>
<rect x="0" y="121" width="1" height="1" fill="#000"/>
<rect x="1026" y="121" width="1" height="1" fill="#000"/>
<rect x="0" y="134" width="1" height="1" fill="#000"/>
<rect x="1026" y="134" width="1" height="1" fill="#000"/>
<rect x="0" y="141" width="1" height="1" fill="#000"/>
<rect x="1026" y="141" width="1" height="1" fill="#000"/>
<rect x="0" y="148" width="1" height="1" fill="#000"/>
<rect x="1026" y="148" width="1" height="1" fill="#000"/>
<rect x="0" y="154" width="1" height="1" fill="#000"/>
<rect x="1026" y="154" width="1" height="1" fill="#000"/>
<rect x="0" y="161" width="1" height="1" fill="#000"/>
<rect x="1026" y="161" width="1" height="1" fill="#000"/>
<rect x="0" y="168" width="1" height="1" fill="#000"/>
<rect x="1026" y="168" width="1" height="1" fill="#000"/>
<rect x="0" y="174" width="1" height="1" fill="#000"/>
<rect x="1026" y="174" width="1" height="1" fill="#000"/>
<rect x="0" y="181" width="1" height="1" fill="#000"/>
<rect x="1026" y="181" width="1" height="1" fill="#000"/>
<rect x="0" y="188" width="1" height="1" fill="#000"/>
<rect x="1026" y="188" width="1" height="1" fill="#000"/>
<rect x="0" y="201" width="1" height="1" fill="#000"/>
<rect x="1026" y="201" width="1" height="1" fill="#000"/>
<rect x="0" y="208" width="1" height="1" fill="#000"/>
<rect x="1026" y="208" width="1" height="1" fill="#000"/>
<rect x="0" y="215" width="1" height="1" fill="#000"/>
<rect x="1026" y="215" width="1" height="1" fill="#000"/>
<rect x="0" y="221" width="1" height="1" fill="#000"/>
<rect x="1026" y="221" width="1" height="1" fill="#000"/>
<rect x="0" y="228" width="1" height="1" fill="#000"/>
<rect x="1026" y="228" width="1" height="1" fill="#000"/>
<rect x="0" y="235" width="1" height="1" fill="#000"/>
<rect x="1026" y="235" width="1" height="1" fill="#000"/>
<rect x="0" y="241" width="1" height="1" fill="#000"/>
<rect x="1026" y="241" width="1" height="1" fill="#000"/>
<rect x="0" y="248" width="1" height="1" fill="#000"/>
<rect x="1026" y="248" width="1" height="1" fill="#000"/>
<rect x="0" y="255" width="1" height="1" fill="#000"/>
<rect x="1026" y="255" width="1" height="1" fill="#000"/>
<rect x="0" y="268" width="1" height="1" fill="#000"/>
<rect x="1026" y="268" width="1" height="1" fill="#000"/>
<rect x="0" y="275" width="1" height="1" fill="#000"/>
<rect x="1026" y="275" width="1" height="1" fill="#000"/>
<rect x="0" y="282" width="1" height="1" fill="#000"/>
<rect x="1026" y="282" width="1" height="1" fill="#000"/>
<rect x="0" y="288" width="1" height="1" fill="#000"/>
<rect x="1026" y="288" width="1" height="1" fill="#000"/>
<rect x="0" y="295" width="1" height="1" fill="#000"/>
<rect x="1026" y="295" width="1" height="1" fill="#000"/>
<rect x="0" y="302" width="1" height="1" fill="#000"/>
<rect x="1026" y="302" width="1" height="1" fill="#000"/>
<rect x="0" y="308" width="1" height="1" fill="#000"/>
<rect x="1026" y="308" width="1" height="1" fill="#000"/>
<rect x="0" y="315" width="1" height="1" fill="#000"/>
<rect x="1026" y="315" width="1" height="1" fill="#000"/>
<rect x="0" y="322" width="1" height="1" fill="#000"/>
<rect x="1026" y="322" width="1" height="1" fill="#000"/>
<rect x="0" y="335" width="1" height="1" fill="#000"/>
<rect x="1026" y="335" width="1" height="1" fill="#000"/>
<rect x="0" y="342" width="1" height="1" fill="#000"/>
<rect x="1026" y="342" width="1" height="1" fill="#000"/>
<rect x="0" y="349" width="1" height="1" fill="#000"/>
<rect x="1026" y="349" width="1" height="1" fill="#000"/>
<rect x="0" y="355" width="1" height="1" fill="#000"/>
<rect x="1026" y="355" width="1" height="1" fill="#000"/>
<rect x="0" y="362" width="1" height="1" fill="#000"/>
<rect x="1026" y="362" width="1" height="1" fill="#000"/>
<rect x="0" y="369" width="1" height="1" fill="#000"/>
<rect x="1026" y="369" width="1" height="1" fill="#000"/>
<rect x="0" y="375" width="1" height="1" fill="#000"/>
<rect x="1026" y="375" width="1" height="1" fill="#000"/>
<rect x="0" y="382" width="1" height="1" fill="#000"/>
<rect x="1026" y="382" width="1" height="1" fill="#000"/>
<rect x="0" y="389" width="1" height="1" fill="#000"/>
<rect x="1026" y="389" width="1" height="1" fill="#000"/>
<rect x="0" y="402" width="1" height="1" fill="#000"/>
<rect x="1026" y="402" width="1" height="1" fill="#000"/>
<rect x="0" y="409" width="1" height="1" fill="#000"/>
<rect x="1026" y="409" width="1" height="1" fill="#000"/>
<rect x="0" y="416" width="1" height="1" fill="#000"/>
<rect x="1026" y="416" width="1" height="1" fill="#000"/>
<rect x="0" y="422" width="1" height="1" fill="#000"/>
<rect x="1026" y="422" width="1" height="1" fill="#000"/>
<rect x="0" y="429" width="1" height="1" fill="#000"/>
<rect x="1026" y="429" width="1" height="1" fill="#000"/>
<rect x="0" y="436" width="1" height="1" fill="#000"/>
<rect x="1026" y="436" width="1" height="1" fill="#000"/>
<rect x="0" y="442" width="1" height="1" fill="#000"/>
<rect x="1026" y="442" width="1" height="1" fill="#000"/>
<rect x="0" y="449" width="1" height="1" fill="#000"/>
<rect x="1026" y="449" width="1" height="1" fill="#000"/>
<rect x="0" y="456" width="1" height="1" fill="#000"/>
<rect x="1026" y="456" width="1" height="1" fill="#000"/>
<rect x="0" y="468" width="1" height="1" fill="#000"/>
<rect x="1026" y="468" width="1" height="1" fill="#000"/>
<rect x="0" y="475" width="1" height="1" fill="#000"/>
<rect x="1026" y="475" width="1" height="1" fill="#000"/>
<rect x="0" y="482" width="1" height="1" fill="#000"/>
<rect x="1026" y="482" width="1" height="1" fill="#000"/>
<rect x="0" y="488" width="1" height="1" fill="#000"/>
<rect x="1026" y="488" width="1" height="1" fill="#000"/>
<rect x="0" y="495" width="1" height="1" fill="#000"/>
<rect x="1026" y="495" width="1" height="1" fill="#000"/>
<rect x="0" y="502" width="1" height="1" fill="#000"/>
<rect x="1026" y="502" width="1" height="1" fill="#000"/>
<rect x="0" y="508" width="1" height="1" fill="#000"/>
<rect x="1026" y="508" width="1" height="1" fill="#000"/>
<rect x="0" y="515" width="1" height="1" fill="#000"/>
<rect x="1026" y="515" width="1" height="1" fill="#000"/>
<rect x="0" y="522" width="1" height="1" fill="#000"/>
<rect x="1026" y="522" width="1" height="1" fill="#000"/>
<rect x="0" y="535" width="1" height="1" fill="#000"/>
<rect x="1026" y="535" width="1" height="1" fill="#000"/>
<rect x="0" y="542" width="1" height="1" fill="#000"/>
<rect x="1026" y="542" width="1" height="1" fill="#000"/>
<rect x="0" y="61" width="1" height="1" fill="#000"/>
<rect x="1026" y="61" width="2" height="1" fill="#000"/>
<rect x="0" y="128" width="1" height="1" fill="#000"/>
<rect x="1026" y="128" width="2" height="1" fill="#000"/>
<rect x="0" y="195" width="1" height="1" fill="#000"/>
<rect x="1026" y="195" width="2" height="1" fill="#000"/>
<rect x="0" y="262" width="1" height="1" fill="#000"/>
<rect x="1026" y="262" width="2" height="1" fill="#000"/>
<rect x="0" y="329" width="1" height="1" fill="#000"/>
<rect x="1026" y="329" width="2" height="1" fill="#000"/>
<rect x="0" y="396" width="1" height="1" fill="#000"/>
<rect x="1026" y="396" width="2" height="1" fill="#000"/>
<rect x="0" y="462" width="1" height="1" fill="#000"/>
<rect x="1026" y="462" width="2" height="1" fill="#000"/>
<rect x="0" y="529" width="1" height="1" fill="#000"/>
<rect x="1026" y="529" width="2" height="1" fill="#000"/>
<rect x="10" y="545" width="1" height="4" fill="#000"/>
<rect x="25" y="545" width="1" height="4" fill="#000"/>
<rect x="76" y="545" width="1" height="4" fill="#000"/>
<rect x="126" y="545" width="1" height="4" fill="#000"/>
<rect x="176" y="545" width="1" height="4" fill="#000"/>
<rect x="226" y="545" width="1" height="4" fill="#000"/>
<rect x="277" y="545" width="1" height="4" fill="#000"/>
<rect x="327" y="545" width="1" height="4" fill="#000"/>
<rect x="377" y="545" width="1" height="4" fill="#000"/>
<rect x="427" y="545" width="1" height="4" fill="#000"/>
<rect x="478" y="545" width="1" height="4" fill="#000"/>
<rect x="532" y="545" width="1" height="4" fill="#000"/>
<rect x="578" y="545" width="1" height="4" fill="#000"/>
<rect x="628" y="545" width="1" height="4" fill="#000"/>
<rect x="683" y="545" width="1" height="4" fill="#000"/>
<rect x="733" y="545" width="1" height="4" fill="#000"/>
<rect x="783" y="545" width="1" height="4" fill="#000"/>
<rect x="833" y="545" width="1" height="4" fill="#000"/>
<rect x="884" y="545" width="1" height="4" fill="#000"/>
<rect x="934" y="545" width="1" height="4" fill="#000"/>
<rect x="984" y="545" width="1" height="4" fill="#000"/>
</svg>
<div class="t" style="left:10px;top:6.5px;font-size:17px;letter-spacing:0.28px;">Australian Dollar Spot (AUD CURNCY) 0.7773 <span style="color:#0000ff">0.01</span></div>
<div class="t" style="right:10px;top:6px;font-size:15.5px;letter-spacing:0.1px;">2015-06-02</div>
<div class="t" style="left:10px;top:32.5px;font-size:14px;color:#0000cd;">Weekly</div>
<div class="t" style="left:10px;top:52.5px;font-size:14px;color:#a52a2a;">EMA 200</div>
<div class="t ax" style="left:-12.5px;width:80px;text-align:center;top:551px;">Jul</div>
<div class="t ax" style="left:38.5px;width:80px;text-align:center;top:551px;">Oct</div>
<div class="t ax" style="left:87.5px;width:80px;text-align:center;top:551px;">2011</div>
<div class="t ax" style="left:138.5px;width:80px;text-align:center;top:551px;">Apr</div>
<div class="t ax" style="left:188.5px;width:80px;text-align:center;top:551px;">Jul</div>
<div class="t ax" style="left:239.5px;width:80px;text-align:center;top:551px;">Oct</div>
<div class="t ax" style="left:288.5px;width:80px;text-align:center;top:551px;">2012</div>
<div class="t ax" style="left:339.5px;width:80px;text-align:center;top:551px;">Apr</div>
<div class="t ax" style="left:389.5px;width:80px;text-align:center;top:551px;">Jul</div>
<div class="t ax" style="left:440.5px;width:80px;text-align:center;top:551px;">Oct</div>
<div class="t ax" style="left:493.5px;width:80px;text-align:center;top:551px;">2013</div>
<div class="t ax" style="left:540.5px;width:80px;text-align:center;top:551px;">Apr</div>
<div class="t ax" style="left:590.5px;width:80px;text-align:center;top:551px;">Jul</div>
<div class="t ax" style="left:645.5px;width:80px;text-align:center;top:551px;">Oct</div>
<div class="t ax" style="left:694.5px;width:80px;text-align:center;top:551px;">2014</div>
<div class="t ax" style="left:745.5px;width:80px;text-align:center;top:551px;">Apr</div>
<div class="t ax" style="left:795.5px;width:80px;text-align:center;top:551px;">Jul</div>
<div class="t ax" style="left:846.5px;width:80px;text-align:center;top:551px;">Oct</div>
<div class="t ax" style="left:895.5px;width:80px;text-align:center;top:551px;">2015</div>
<div class="t ax" style="left:946.5px;width:80px;text-align:center;top:551px;">Apr</div>
<div class="t ax" style="left:1031px;top:55px;">1.1</div>
<div class="t ax" style="left:1031px;top:122px;">1.05</div>
<div class="t ax" style="left:1031px;top:189px;">1</div>
<div class="t ax" style="left:1031px;top:256px;">0.95</div>
<div class="t ax" style="left:1031px;top:323px;">0.9</div>
<div class="t ax" style="left:1031px;top:390px;">0.85</div>
<div class="t ax" style="left:1031px;top:456px;">0.8</div>
<div class="t ax" style="left:1031px;top:523px;">0.75</div>
<div class="t" style="left:0px;top:577px;font-size:15.5px;letter-spacing:0.12px;color:#0000ff;">www.fullertreacymoney.com</div>
<div class="t" style="left:625px;top:581px;font-size:11px;color:#999;letter-spacing:0.77px;">This website is ©</div>
<div class="t" style="left:723.7px;top:581px;font-size:11px;color:#999;letter-spacing:1.15px;">2008-2015</div>
<div class="t" style="left:790.6px;top:581px;font-size:11px;color:#999;letter-spacing:0.567px;">Fuller Treacy Money plc. All rights reserved.</div>
</body></html>
